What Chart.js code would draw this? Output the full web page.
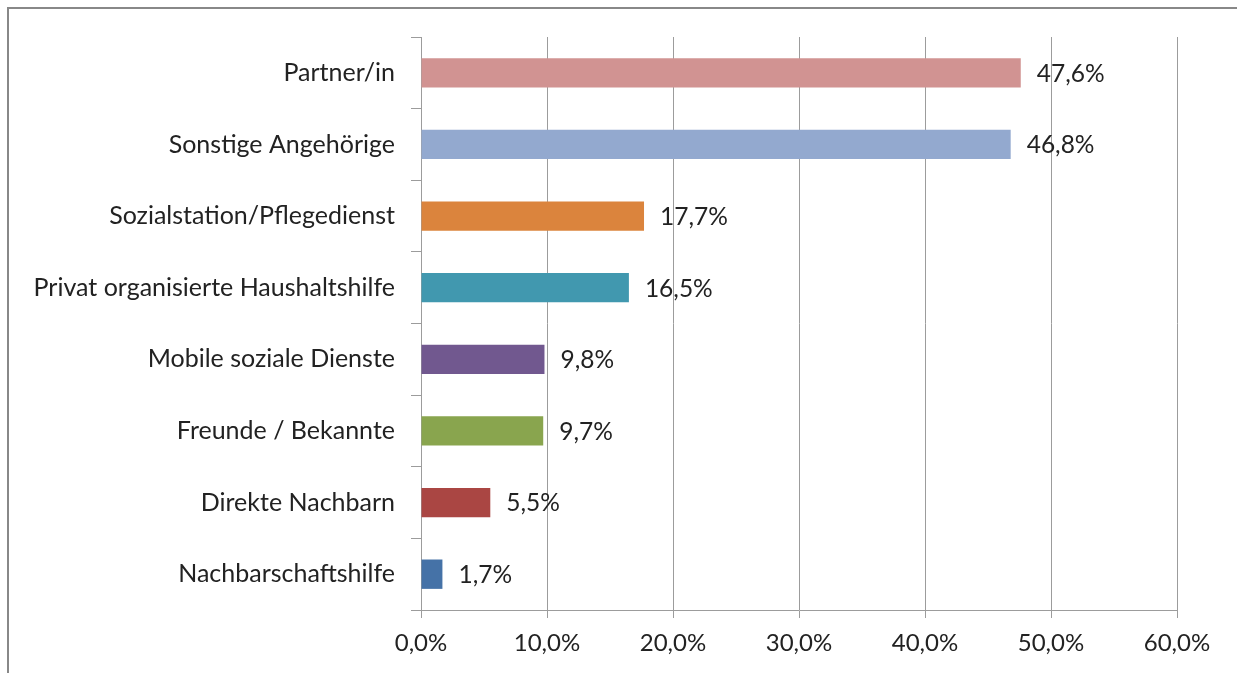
<!DOCTYPE html>
<html>
<head>
<meta charset="utf-8">
<script src="https://cdn.jsdelivr.net/npm/chart.js@4/dist/chart.umd.min.js"></script>
<style>
  html, body { margin: 0; padding: 0; background: #ffffff; }
  #wrap { position: relative; width: 1237px; height: 673px; }
</style>
</head>
<body>
<div id="wrap"><canvas id="c" width="1237" height="673"></canvas></div>
<script>
const categories = [
  "Partner/in",
  "Sonstige Angehörige",
  "Sozialstation/Pflegedienst",
  "Privat organisierte Haushaltshilfe",
  "Mobile soziale Dienste",
  "Freunde / Bekannte",
  "Direkte Nachbarn",
  "Nachbarschaftshilfe"
];
const values = [47.6, 46.8, 17.7, 16.5, 9.8, 9.7, 5.5, 1.7];
const barColors = ["#D19392", "#93A9CF", "#DB843D", "#4198AF", "#71588F", "#89A54E", "#AA4643", "#4572A7"];
const xTicks = [0, 10, 20, 30, 40, 50, 60];

const FONT = "Lato, 'Open Sans', sans-serif";
const TEXT = "#222222";
const GRID = "#9c9c9c";
const fmt = v => v.toFixed(1).replace('.', ',') + '%';

const framePlugin = {
  id: 'frame',
  beforeDraw(chart) {
    const ctx = chart.ctx;
    ctx.save();
    ctx.fillStyle = '#ffffff';
    ctx.fillRect(0, 0, chart.width, chart.height);
    ctx.strokeStyle = '#888888';
    ctx.lineWidth = 2;
    ctx.beginPath();
    ctx.moveTo(8, chart.height);
    ctx.lineTo(8, 8);
    ctx.lineTo(chart.width, 8);
    ctx.stroke();
    ctx.restore();
  }
};

const labelPlugin = {
  id: 'valueLabels',
  afterDatasetsDraw(chart) {
    const ctx = chart.ctx;
    ctx.save();
    ctx.font = "24.5px " + FONT;
    ctx.fillStyle = TEXT;
    ctx.textAlign = 'left';
    ctx.textBaseline = 'middle';
    chart.getDatasetMeta(0).data.forEach((bar, i) => {
      ctx.fillText(fmt(values[i]), bar.x + 16, bar.y + 1);
    });
    ctx.restore();
  }
};

new Chart(document.getElementById('c'), {
  type: 'bar',
  data: {
    labels: categories,
    datasets: [{
      data: values,
      backgroundColor: barColors,
      borderWidth: 0,
      barPercentage: 0.41,
      categoryPercentage: 1.0
    }]
  },
  options: {
    indexAxis: 'y',
    responsive: false,
    animation: false,
    devicePixelRatio: 1,
    layout: { padding: { top: 37, right: 60, left: 0, bottom: 0 } },
    plugins: {
      legend: { display: false },
      tooltip: { enabled: false }
    },
    scales: {
      x: {
        min: 0, max: 60,
        afterBuildTicks(scale) { scale.ticks = xTicks.map(v => ({ value: v })); },
        afterFit(scale) { scale.height = 63; },
        grid: { color: GRID, lineWidth: 1, tickLength: 8, drawTicks: true },
        border: { color: GRID, width: 1 },
        ticks: {
          color: TEXT,
          font: { family: FONT, size: 24 },
          padding: 11,
          callback: v => fmt(v)
        }
      },
      y: {
        afterFit(scale) { scale.width = 421; },
        grid: { drawOnChartArea: false, offset: true, color: GRID, tickLength: 10 },
        border: { color: GRID, width: 1 },
        ticks: {
          color: TEXT,
          font: { family: FONT, size: 25 },
          padding: 16
        }
      }
    }
  },
  plugins: [framePlugin, labelPlugin]
});
</script>
</body>
</html>
